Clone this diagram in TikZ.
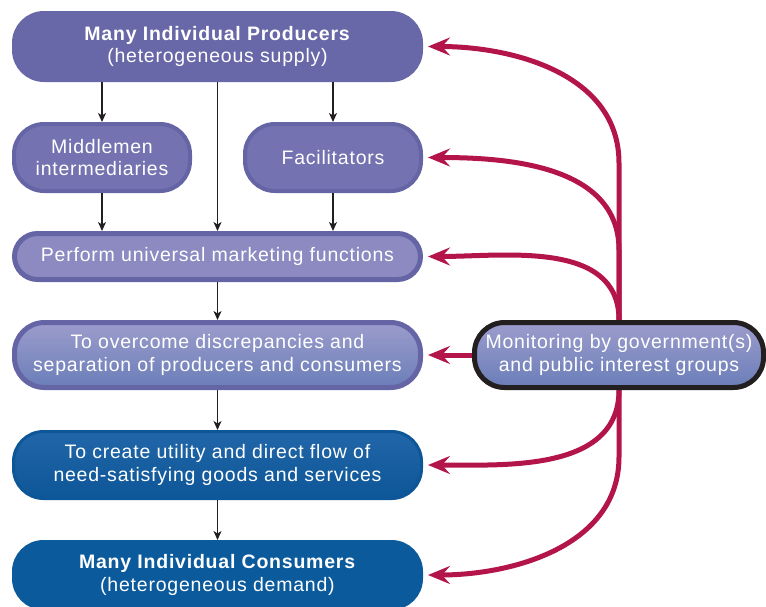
\documentclass[tikz,border=0pt]{standalone}
\usepackage{fontspec}
\setmainfont{Liberation Sans}[LetterSpace=4]
\usetikzlibrary{arrows.meta,positioning,backgrounds}

\definecolor{prodblue}{HTML}{6868A8}
\definecolor{rimblue}{HTML}{6565A5}
\definecolor{midfill}{HTML}{7472B0}
\definecolor{perffill}{HTML}{8C8AC0}
\definecolor{lighttop}{HTML}{9C9CCC}
\definecolor{lightbot}{HTML}{6A7EB8}
\definecolor{deeptop}{HTML}{2166A8}
\definecolor{deepbot}{HTML}{0D5697}
\definecolor{consblue}{HTML}{0B5A9C}
\definecolor{ctrlred}{HTML}{B3154A}
\definecolor{arrowblack}{HTML}{231F20}

\tikzset{
  stage/.style={rounded corners=30pt,text=white,align=center,inner sep=0pt,outer sep=auto,
    line width=4pt,font=\fontsize{19.5}{22.5}\selectfont,minimum width=407pt,minimum height=67pt},
  topbox/.style={stage,fill=prodblue,draw=prodblue},
  sidebox/.style={stage,fill=midfill,draw=rimblue,minimum width=176pt},
  perfbox/.style={stage,fill=perffill,draw=rimblue,line width=5pt,rounded corners=23pt,
    minimum width=406pt,minimum height=46pt},
  lightbox/.style={stage,top color=lighttop,bottom color=lightbot,draw=rimblue,line width=5pt,
    minimum width=406pt,minimum height=65pt},
  deepbox/.style={stage,top color=deeptop,bottom color=deepbot,draw=deepbot,line width=3pt,
    minimum width=408pt},
  consbox/.style={stage,fill=consblue,draw=consblue,line width=3pt,minimum width=408pt},
  monbox/.style={lightbox,draw=arrowblack,minimum width=289pt},
  flow/.style={arrowblack,line width=1.3pt,-{Stealth[length=9pt,width=8pt,inset=2.5pt]}},
  ctrl/.style={ctrlred,line width=5pt,shorten >=5pt,-{Stealth[length=22pt,width=18pt,inset=8pt]}}
}

\begin{document}
\begin{tikzpicture}[x=1pt,y=1pt]
  \useasboundingbox (0,0) rectangle (766,-606);
  \node[topbox] (prod) at (217.5,-46.5) {\textbf{Many Individual Producers}\\(heterogeneous supply)};
  \node[sidebox] (mid) [below right=40pt and 0pt of prod.south west] {Middlemen\\intermediaries};
  \node[sidebox] (fac) [below left=40pt and 0pt of prod.south east] {Facilitators};
  \coordinate (midbase) at (prod.south |- mid.south);
  \node[perfbox] (perf) [below=38pt of midbase] {Perform universal marketing functions};
  \node[lightbox] (over) [below=38pt of perf] {To overcome discrepancies and\\separation of producers and consumers};
  \node[deepbox] (create) [below=40pt of over] {To create utility and direct flow of\\need-satisfying goods and services};
  \node[consbox] (cons) [below=40pt of create] {\textbf{Many Individual Consumers}\\(heterogeneous demand)};
  \node[monbox] (mon) [right=49pt of over] {Monitoring by government(s)\\and public interest groups};

  \path[flow]
  (prod.south -| mid.north) edge (mid)
  (prod.south -| fac.north) edge (fac)
  (prod) edge (perf)
  (mid) edge (mid.south |- perf.north)
  (fac) edge (fac.south |- perf.north)
  (perf) edge (over)
  (over) edge (create)
  (create) edge (cons);

  \begin{pgfonlayer}{background}
    \draw[ctrl] (mon.north) -- ++(0,157) to[out=90,in=0] (prod.east);
    \draw[ctrl] (mon.north) -- ++(0,70) to[out=90,in=0] (fac.east);
    \path[ctrl]
    (mon.north) edge[out=90,in=0] (perf.east)
    (mon.west) edge (over.east)
    (mon.south) edge[out=-90,in=0] (create.east);
    \draw[ctrl] (mon.south) -- ++(0,-67) to[out=-90,in=0] (cons.east);
  \end{pgfonlayer}
\end{tikzpicture}
\end{document}
